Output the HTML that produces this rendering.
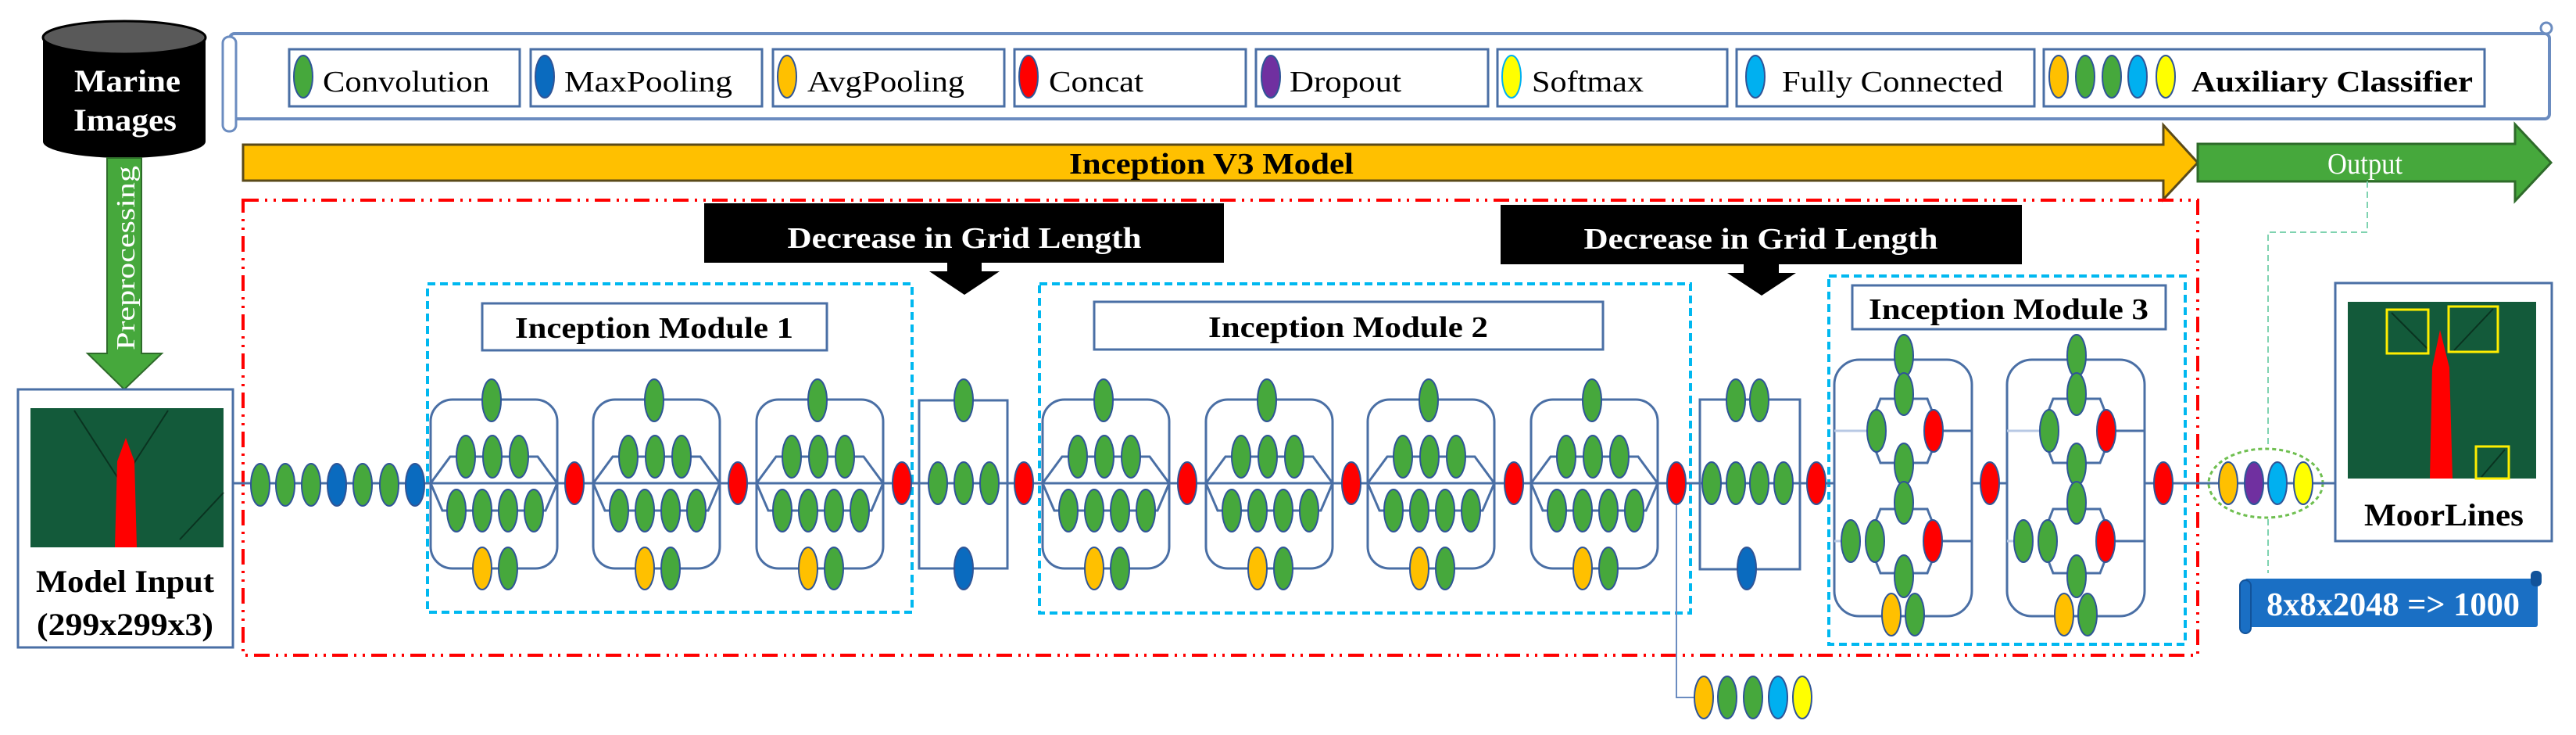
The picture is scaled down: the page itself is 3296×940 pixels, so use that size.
<!DOCTYPE html>
<html><head><meta charset="utf-8"><style>
html,body{margin:0;padding:0;background:#fff;}
svg{display:block;}
text{font-family:"Liberation Serif",serif;}
</style></head><body>
<svg width="3296" height="940" viewBox="0 0 3296 940" xmlns="http://www.w3.org/2000/svg">
<defs>
<g id="blkA">
  <rect x="0" y="-107" width="162" height="216" rx="28" fill="none" stroke="#4a6fa5" stroke-width="3"/>
  <polyline points="0,0 25,-34 137,-34 162,0" fill="none" stroke="#4a6fa5" stroke-width="3"/>
  <polyline points="0,0 15,35 147,35 162,0" fill="none" stroke="#4a6fa5" stroke-width="3"/>
  <g stroke="#2f5597" stroke-width="2" fill="#46a83c">
    <ellipse cx="78" cy="-106" rx="12" ry="27"/>
    <ellipse cx="45" cy="-34" rx="12" ry="27"/>
    <ellipse cx="79" cy="-34" rx="12" ry="27"/>
    <ellipse cx="113" cy="-34" rx="12" ry="27"/>
    <ellipse cx="33" cy="35" rx="12" ry="27"/>
    <ellipse cx="66" cy="35" rx="12" ry="27"/>
    <ellipse cx="99" cy="35" rx="12" ry="27"/>
    <ellipse cx="132" cy="35" rx="12" ry="27"/>
    <ellipse cx="66" cy="109" rx="12" ry="27" fill="#ffc000"/>
    <ellipse cx="99" cy="109" rx="12" ry="27"/>
  </g>
</g>
<g id="blkC">
  <rect x="0" y="-158" width="176" height="328" rx="32" fill="#fff" stroke="#4a6fa5" stroke-width="3"/>
  <line x1="0" y1="-67" x2="43" y2="-67" stroke="#b8c9e4" stroke-width="3"/>
  <line x1="127" y1="-67" x2="176" y2="-67" stroke="#4a6fa5" stroke-width="3"/>
  <line x1="0" y1="74" x2="10" y2="74" stroke="#b8c9e4" stroke-width="3"/>
  <line x1="127" y1="74" x2="176" y2="74" stroke="#4a6fa5" stroke-width="3"/>
  <polygon points="59,-108 119,-108 135,-67 119,-26 59,-26 43,-67" fill="none" stroke="#4a6fa5" stroke-width="3"/>
  <polygon points="59,33 119,33 135,74 119,115 59,115 43,74" fill="none" stroke="#4a6fa5" stroke-width="3"/>
  <g stroke="#2f5597" stroke-width="2" fill="#46a83c">
    <ellipse cx="89" cy="-163" rx="12" ry="27"/>
    <ellipse cx="89" cy="-114" rx="12" ry="27"/>
    <ellipse cx="54" cy="-67" rx="12" ry="27"/>
    <ellipse cx="127" cy="-67" rx="12" ry="27" fill="#ff0000"/>
    <ellipse cx="89" cy="-24" rx="12" ry="27"/>
    <ellipse cx="89" cy="25" rx="12" ry="27"/>
    <ellipse cx="21" cy="74" rx="12" ry="27"/>
    <ellipse cx="52" cy="74" rx="12" ry="27"/>
    <ellipse cx="126" cy="74" rx="12" ry="27" fill="#ff0000"/>
    <ellipse cx="89" cy="119" rx="12" ry="27"/>
    <ellipse cx="73" cy="168" rx="12" ry="27" fill="#ffc000"/>
    <ellipse cx="103" cy="168" rx="12" ry="27"/>
  </g>
</g>
</defs>

<!-- Cylinder -->
<path d="M55,48 L55,181 A104,21 0 0 0 263,181 L263,48 Z" fill="#000"/>
<ellipse cx="159" cy="48" rx="104" ry="21" fill="#595959" stroke="#000" stroke-width="3"/>
<text x="163" y="117" font-size="40" font-weight="bold" fill="#fff" text-anchor="middle" textLength="136" lengthAdjust="spacingAndGlyphs">Marine</text>
<text x="160" y="167" font-size="40" font-weight="bold" fill="#fff" text-anchor="middle" textLength="132" lengthAdjust="spacingAndGlyphs">Images</text>

<!-- Preprocessing arrow -->
<path d="M137,202 L181,202 L181,452 L207,452 L159,498 L112,452 L137,452 Z" fill="#46a83c" stroke="#2e6b2a" stroke-width="2"/>
<text transform="translate(172,448) rotate(-90)" font-size="34" fill="#fff" textLength="236" lengthAdjust="spacingAndGlyphs">Preprocessing</text>

<!-- Model input -->
<rect x="23" y="498" width="275" height="330" fill="#fff" stroke="#4a6fa5" stroke-width="3"/>
<rect x="39" y="522" width="247" height="178" fill="#135a3a"/>
<path d="M95,525 L150,610 M215,525 L160,610 M230,690 L286,630" stroke="#0a3320" stroke-width="2"/>
<polygon points="147,700 175,700 172,590 161,560 150,590" fill="#ff0000"/>
<text x="160" y="757" font-size="40" font-weight="bold" text-anchor="middle" textLength="228" lengthAdjust="spacingAndGlyphs">Model Input</text>
<text x="160" y="812" font-size="40" font-weight="bold" text-anchor="middle" textLength="226" lengthAdjust="spacingAndGlyphs">(299x299x3)</text>

<!-- Legend scroll -->
<rect x="294" y="43" width="2968" height="109" rx="6" fill="#fff" stroke="#6b8cc0" stroke-width="4"/>
<rect x="285" y="47" width="17" height="121" rx="8" fill="#fff" stroke="#6b8cc0" stroke-width="3"/>
<circle cx="3258" cy="36" r="7" fill="#fff" stroke="#6b8cc0" stroke-width="3"/>
<g stroke="#4a6fa5" stroke-width="3" fill="#fff">
<rect x="370" y="63" width="295" height="73"/>
<rect x="679" y="63" width="296" height="73"/>
<rect x="989" y="63" width="296" height="73"/>
<rect x="1298" y="63" width="296" height="73"/>
<rect x="1607" y="63" width="297" height="73"/>
<rect x="1916" y="63" width="294" height="73"/>
<rect x="2222" y="63" width="381" height="73"/>
<rect x="2615" y="63" width="564" height="73"/>
</g>
<g stroke="#2f5597" stroke-width="2">
<ellipse cx="388" cy="98" rx="12" ry="27" fill="#46a83c"/>
<ellipse cx="697" cy="98" rx="12" ry="27" fill="#0a6bbf"/>
<ellipse cx="1007" cy="98" rx="12" ry="27" fill="#ffc000"/>
<ellipse cx="1316" cy="98" rx="12" ry="27" fill="#ff0000"/>
<ellipse cx="1626" cy="98" rx="12" ry="27" fill="#7030a0"/>
<ellipse cx="1934" cy="98" rx="12" ry="27" fill="#ffff00" stroke="#00b0f0"/>
<ellipse cx="2246" cy="98" rx="12" ry="27" fill="#00b0f0"/>
<ellipse cx="2634" cy="98" rx="12" ry="27" fill="#ffc000"/>
<ellipse cx="2668" cy="98" rx="12" ry="27" fill="#46a83c"/>
<ellipse cx="2702" cy="98" rx="12" ry="27" fill="#46a83c"/>
<ellipse cx="2735" cy="98" rx="12" ry="27" fill="#00b0f0"/>
<ellipse cx="2771" cy="98" rx="12" ry="27" fill="#ffff00"/>
</g>
<g font-size="38" fill="#000">
<text x="413" y="117" textLength="213" lengthAdjust="spacingAndGlyphs">Convolution</text>
<text x="722" y="117" textLength="215" lengthAdjust="spacingAndGlyphs">MaxPooling</text>
<text x="1033" y="117" textLength="201" lengthAdjust="spacingAndGlyphs">AvgPooling</text>
<text x="1342" y="117" textLength="121" lengthAdjust="spacingAndGlyphs">Concat</text>
<text x="1650" y="117" textLength="143" lengthAdjust="spacingAndGlyphs">Dropout</text>
<text x="1960" y="117" textLength="143" lengthAdjust="spacingAndGlyphs">Softmax</text>
<text x="2280" y="117" textLength="283" lengthAdjust="spacingAndGlyphs">Fully Connected</text>
<text x="2804" y="117" font-weight="bold" textLength="360" lengthAdjust="spacingAndGlyphs">Auxiliary Classifier</text>
</g>

<!-- Big arrows -->
<path d="M311,185 L2768,185 L2768,160 L2812,208 L2768,255 L2768,231 L311,231 Z" fill="#ffc000" stroke="#5a4a1a" stroke-width="3"/>
<text x="1550" y="222" font-size="38" font-weight="bold" text-anchor="middle" textLength="364" lengthAdjust="spacingAndGlyphs">Inception V3 Model</text>
<path d="M2812,184 L3218,184 L3218,159 L3264,208 L3218,257 L3218,232 L2812,232 Z" fill="#46a83c" stroke="#2e6b2a" stroke-width="3"/>
<text x="3026" y="222" font-size="38" fill="#fff" text-anchor="middle" textLength="96" lengthAdjust="spacingAndGlyphs">Output</text>
<path d="M3029,232 L3029,297 L2902,297 L2902,733" fill="none" stroke="#7fd3b0" stroke-width="2" stroke-dasharray="8,5"/>

<!-- Red dash-dot frame -->
<rect x="311" y="256" width="2501" height="582" fill="none" stroke="#ff0000" stroke-width="4" stroke-dasharray="20,8,3,8,3,8"/>

<!-- Decrease boxes -->
<rect x="901" y="260" width="665" height="76" fill="#000"/>
<text x="1234" y="317" font-size="38" font-weight="bold" fill="#fff" text-anchor="middle" textLength="453" lengthAdjust="spacingAndGlyphs">Decrease in Grid Length</text>
<polygon points="1212,336 1256,336 1256,347 1279,347 1234,377 1189,347 1212,347" fill="#000"/>
<rect x="1920" y="262" width="667" height="76" fill="#000"/>
<text x="2253" y="318" font-size="38" font-weight="bold" fill="#fff" text-anchor="middle" textLength="453" lengthAdjust="spacingAndGlyphs">Decrease in Grid Length</text>
<polygon points="2231,338 2276,338 2276,349 2298,349 2254,378 2210,349 2231,349" fill="#000"/>

<!-- Cyan dashed module frames -->
<g fill="none" stroke="#00b8f0" stroke-width="4" stroke-dasharray="10,6">
<rect x="547" y="363" width="620" height="420"/>
<rect x="1330" y="363" width="833" height="421"/>
<rect x="2340" y="353" width="456" height="471"/>
</g>
<g fill="#fff" stroke="#4a6fa5" stroke-width="3">
<rect x="617" y="388" width="441" height="60"/>
<rect x="1400" y="386" width="651" height="61"/>
<rect x="2370" y="365" width="401" height="56"/>
</g>
<g font-size="38" font-weight="bold" text-anchor="middle">
<text x="837" y="432" textLength="356" lengthAdjust="spacingAndGlyphs">Inception Module 1</text>
<text x="1725" y="431" textLength="358" lengthAdjust="spacingAndGlyphs">Inception Module 2</text>
<text x="2570" y="408" textLength="358" lengthAdjust="spacingAndGlyphs">Inception Module 3</text>
</g>

<!-- Main line -->
<line x1="298" y1="618" x2="2988" y2="618" stroke="#4a6fa5" stroke-width="3"/>
<!-- aux line -->
<polyline points="2145,618 2145,892 2180,892" fill="none" stroke="#6b8cc0" stroke-width="2"/>

<!-- initial chain -->
<g stroke="#2f5597" stroke-width="2" fill="#46a83c">
<ellipse cx="333" cy="620" rx="12" ry="27"/>
<ellipse cx="365" cy="620" rx="12" ry="27"/>
<ellipse cx="398" cy="620" rx="12" ry="27"/>
<ellipse cx="431" cy="620" rx="12" ry="27" fill="#0a6bbf"/>
<ellipse cx="464" cy="620" rx="12" ry="27"/>
<ellipse cx="498" cy="620" rx="12" ry="27"/>
<ellipse cx="531" cy="620" rx="12" ry="27" fill="#0a6bbf"/>
</g>

<!-- Module blocks -->
<use href="#blkA" x="551" y="618"/>
<use href="#blkA" x="759" y="618"/>
<use href="#blkA" x="968" y="618"/>
<use href="#blkA" x="1334" y="618"/>
<use href="#blkA" x="1543" y="618"/>
<use href="#blkA" x="1750" y="618"/>
<use href="#blkA" x="1959" y="618"/>

<!-- Reduction block 1 -->
<rect x="1176" y="512" width="113" height="215" fill="none" stroke="#4a6fa5" stroke-width="3"/>
<g stroke="#2f5597" stroke-width="2" fill="#46a83c">
<ellipse cx="1233" cy="512" rx="12" ry="27"/>
<ellipse cx="1200" cy="618" rx="12" ry="27"/>
<ellipse cx="1233" cy="618" rx="12" ry="27"/>
<ellipse cx="1266" cy="618" rx="12" ry="27"/>
<ellipse cx="1233" cy="727" rx="12" ry="27" fill="#0a6bbf"/>
</g>
<!-- Reduction block 2 -->
<rect x="2175" y="511" width="128" height="217" fill="none" stroke="#4a6fa5" stroke-width="3"/>
<g stroke="#2f5597" stroke-width="2" fill="#46a83c">
<ellipse cx="2221" cy="512" rx="12" ry="27"/>
<ellipse cx="2251" cy="512" rx="12" ry="27"/>
<ellipse cx="2190" cy="618" rx="12" ry="27"/>
<ellipse cx="2221" cy="618" rx="12" ry="27"/>
<ellipse cx="2251" cy="618" rx="12" ry="27"/>
<ellipse cx="2282" cy="618" rx="12" ry="27"/>
<ellipse cx="2235" cy="727" rx="12" ry="27" fill="#0a6bbf"/>
</g>

<!-- IM3 blocks -->
<use href="#blkC" x="2347" y="618"/>
<use href="#blkC" x="2568" y="618"/>

<!-- Concats -->
<g stroke="#2f5597" stroke-width="2" fill="#ff0000">
<ellipse cx="735" cy="618" rx="12" ry="27"/>
<ellipse cx="944" cy="618" rx="12" ry="27"/>
<ellipse cx="1154" cy="618" rx="12" ry="27"/>
<ellipse cx="1310" cy="618" rx="12" ry="27"/>
<ellipse cx="1519" cy="618" rx="12" ry="27"/>
<ellipse cx="1729" cy="618" rx="12" ry="27"/>
<ellipse cx="1937" cy="618" rx="12" ry="27"/>
<ellipse cx="2145" cy="618" rx="12" ry="27"/>
<ellipse cx="2324" cy="618" rx="12" ry="27"/>
<ellipse cx="2546" cy="618" rx="12" ry="27"/>
<ellipse cx="2768" cy="618" rx="12" ry="27"/>
</g>

<!-- Aux classifier bottom -->
<g stroke="#2f5597" stroke-width="2">
<ellipse cx="2180" cy="892" rx="12" ry="27" fill="#ffc000"/>
<ellipse cx="2210" cy="892" rx="12" ry="27" fill="#46a83c"/>
<ellipse cx="2243" cy="892" rx="12" ry="27" fill="#46a83c"/>
<ellipse cx="2275" cy="892" rx="12" ry="27" fill="#00b0f0"/>
<ellipse cx="2306" cy="892" rx="12" ry="27" fill="#ffff00"/>
</g>

<!-- Output group -->
<ellipse cx="2899" cy="618" rx="73" ry="44" fill="#fff" stroke="#6fbf50" stroke-width="3" stroke-dasharray="5,4"/>
<line x1="2826" y1="618" x2="2988" y2="618" stroke="#4a6fa5" stroke-width="3"/>
<g stroke="#2f5597" stroke-width="2">
<ellipse cx="2851" cy="618" rx="12" ry="27" fill="#ffc000"/>
<ellipse cx="2884" cy="618" rx="12" ry="27" fill="#7030a0"/>
<ellipse cx="2914" cy="618" rx="12" ry="27" fill="#00b0f0"/>
<ellipse cx="2947" cy="618" rx="12" ry="27" fill="#ffff00"/>
</g>

<!-- MoorLines -->
<rect x="2988" y="362" width="277" height="330" fill="#fff" stroke="#4a6fa5" stroke-width="3"/>
<rect x="3004" y="386" width="241" height="226" fill="#135a3a"/>
<path d="M3060,400 L3108,448 M3190,395 L3140,448 M3175,610 L3205,575" stroke="#0a3320" stroke-width="2"/>
<polygon points="3109,612 3138,612 3134,470 3122,422 3112,470" fill="#ff0000"/>
<g fill="none" stroke="#ffee00" stroke-width="3">
<rect x="3054" y="396" width="53" height="56"/>
<rect x="3133" y="392" width="63" height="58"/>
<rect x="3168" y="571" width="42" height="41"/>
</g>
<text x="3127" y="672" font-size="40" font-weight="bold" text-anchor="middle" textLength="204" lengthAdjust="spacingAndGlyphs">MoorLines</text>

<!-- Blue scroll -->
<rect x="2872" y="740" width="375" height="62" rx="3" fill="#1a6fc4"/>
<rect x="2866" y="742" width="14" height="68" rx="7" fill="#1a6fc4" stroke="#12539a" stroke-width="2"/>
<rect x="3238" y="730" width="14" height="20" rx="6" fill="#12539a"/>
<text x="3062" y="787" font-size="42" font-weight="bold" fill="#fff" text-anchor="middle" textLength="324" lengthAdjust="spacingAndGlyphs">8x8x2048 =&gt; 1000</text>
</svg>
</body></html>
